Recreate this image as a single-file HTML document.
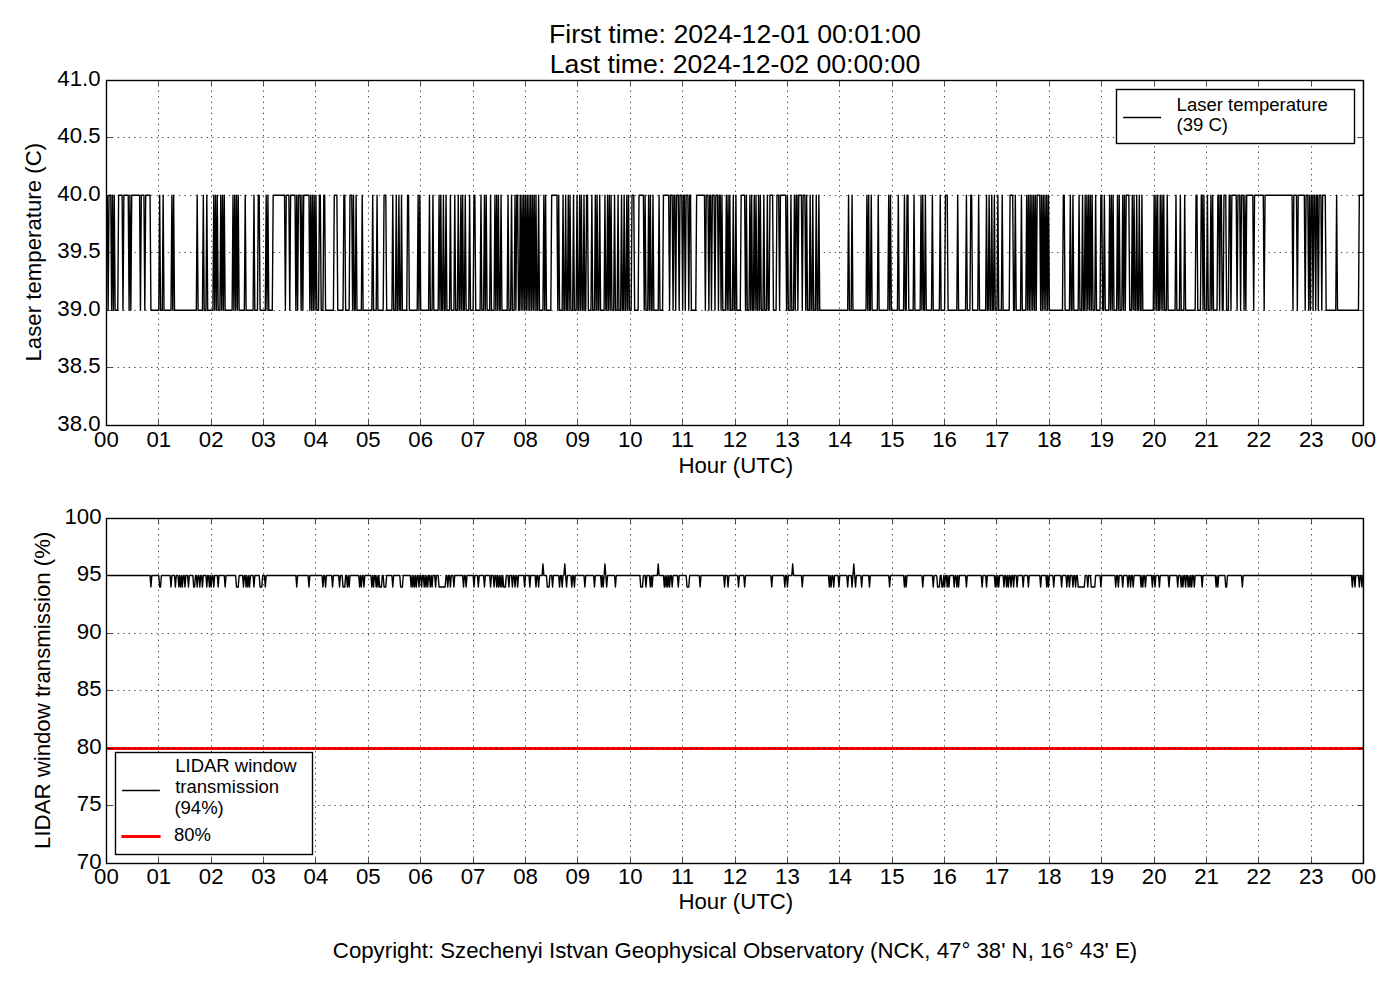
<!DOCTYPE html>
<html lang="en"><head><meta charset="utf-8"><title>LIDAR housekeeping</title>
<style>
html,body{margin:0;padding:0;background:#fff;}
body{width:1400px;height:1000px;position:relative;overflow:hidden;font-family:"Liberation Sans",sans-serif;}
</style></head><body>
<svg width="1400" height="1000" viewBox="0 0 1400 1000" style="display:block;position:absolute;left:0;top:0">
<rect width="1400" height="1000" fill="#fff"/>
<g fill="none" stroke="#000" stroke-width="1.39" stroke-linejoin="round" stroke-linecap="butt">
<path d="M107.27 195.2L108.15 310.2L109.02 195.2L110.77 195.2L111.64 310.2L112.51 195.2L113.39 310.2L114.26 195.2L115.13 310.2L117.75 310.2L118.62 195.2L122.12 195.2L122.99 310.2L123.86 195.2L128.23 195.2L129.1 310.2L129.97 195.2L130.85 310.2L131.72 195.2L139.58 195.2L140.45 310.2L141.32 195.2L143.94 195.2L144.82 310.2L145.69 195.2L150.06 195.2L150.93 310.2L158.79 310.2L159.66 195.2L160.53 310.2L162.28 310.2L163.15 195.2L164.03 310.2L171.01 310.2L171.88 195.2L172.76 310.2L173.63 195.2L174.5 310.2L196.33 310.2L197.2 195.2L198.08 310.2L202.44 310.2L203.32 195.2L204.19 310.2L205.94 310.2L206.81 195.2L207.68 310.2L212.92 310.2L213.79 195.2L214.67 310.2L215.54 195.2L216.41 310.2L217.29 195.2L218.16 310.2L219.91 310.2L220.78 195.2L221.65 310.2L222.53 195.2L223.4 310.2L224.27 195.2L225.14 310.2L232.13 310.2L233 195.2L233.88 310.2L234.75 195.2L235.62 310.2L236.5 195.2L237.37 310.2L238.24 195.2L239.11 310.2L244.35 310.2L245.23 195.2L246.1 310.2L253.09 310.2L253.96 195.2L254.83 310.2L257.45 310.2L258.32 195.2L259.2 195.2L260.07 310.2L265.31 310.2L266.18 195.2L267.05 310.2L267.93 195.2L268.8 310.2L272.29 310.2L273.17 195.2L284.52 195.2L285.39 310.2L286.26 195.2L288.88 195.2L289.76 310.2L290.63 195.2L295 195.2L295.87 310.2L296.74 195.2L297.61 310.2L298.49 195.2L300.23 195.2L301.11 310.2L301.98 195.2L302.85 310.2L303.73 195.2L308.97 195.2L309.84 310.2L310.71 195.2L311.58 310.2L312.46 195.2L313.33 310.2L314.2 195.2L315.08 310.2L315.95 195.2L316.82 310.2L318.57 310.2L319.44 195.2L320.32 195.2L321.19 310.2L322.93 310.2L323.81 195.2L324.68 195.2L325.55 310.2L333.41 310.2L334.29 195.2L336.9 195.2L337.78 310.2L343.02 310.2L343.89 195.2L344.76 195.2L345.64 310.2L349.13 310.2L350 195.2L351.75 195.2L352.62 310.2L353.49 195.2L354.37 310.2L355.24 310.2L356.11 195.2L356.99 310.2L361.35 310.2L362.23 195.2L363.1 310.2L371.83 310.2L372.7 195.2L373.58 310.2L376.2 310.2L377.07 195.2L377.94 310.2L383.18 310.2L384.05 195.2L385.8 195.2L386.67 310.2L391.91 310.2L392.78 195.2L393.66 310.2L395.4 310.2L396.28 195.2L397.15 310.2L398.02 310.2L398.9 195.2L399.77 310.2L400.64 310.2L401.52 195.2L402.39 310.2L406.75 310.2L407.63 195.2L408.5 195.2L409.37 310.2L417.23 310.2L418.11 195.2L418.98 310.2L419.85 195.2L420.73 310.2L428.58 310.2L429.46 195.2L430.33 310.2L432.08 310.2L432.95 195.2L433.82 310.2L438.19 310.2L439.06 195.2L439.93 310.2L440.81 195.2L441.68 310.2L442.55 310.2L443.43 195.2L444.3 310.2L445.17 310.2L446.05 195.2L446.92 310.2L449.54 310.2L450.41 195.2L451.28 310.2L453.9 310.2L454.78 195.2L455.65 310.2L457.4 310.2L458.27 195.2L459.14 310.2L460.02 310.2L460.89 195.2L461.76 310.2L462.63 195.2L463.51 310.2L464.38 310.2L465.25 195.2L466.13 310.2L468.75 310.2L469.62 195.2L470.49 310.2L473.11 310.2L473.99 195.2L474.86 195.2L475.73 310.2L480.1 310.2L480.97 195.2L481.84 310.2L483.59 310.2L484.46 195.2L485.34 310.2L486.21 195.2L487.08 310.2L489.7 310.2L490.57 195.2L491.45 310.2L494.07 310.2L494.94 195.2L495.81 310.2L496.69 195.2L497.56 310.2L498.43 195.2L499.31 310.2L500.18 310.2L501.05 195.2L501.93 310.2L507.16 310.2L508.04 195.2L508.91 310.2L510.66 310.2L511.53 195.2L512.4 310.2L514.15 310.2L515.02 195.2L515.9 310.2L516.77 195.2L517.64 195.2L518.51 310.2L519.39 310.2L520.26 195.2L521.13 310.2L522.01 195.2L522.88 310.2L523.75 195.2L524.63 310.2L525.5 195.2L526.37 310.2L527.25 195.2L528.12 310.2L528.99 195.2L529.87 310.2L530.74 195.2L531.61 310.2L532.49 195.2L533.36 310.2L534.23 195.2L535.1 310.2L535.98 195.2L536.85 310.2L537.72 310.2L538.6 195.2L539.47 310.2L542.96 310.2L543.84 195.2L544.71 310.2L545.58 195.2L546.45 310.2L550.82 310.2L551.69 195.2L556.93 195.2L557.81 310.2L558.68 195.2L559.55 310.2L562.17 310.2L563.04 195.2L563.92 310.2L564.79 310.2L565.66 195.2L566.54 310.2L567.41 310.2L568.28 195.2L569.16 310.2L570.03 195.2L570.9 310.2L572.65 310.2L573.52 195.2L574.39 310.2L576.14 310.2L577.01 195.2L577.89 310.2L578.76 310.2L579.63 195.2L580.51 310.2L581.38 195.2L582.25 310.2L583.13 310.2L584 195.2L584.87 310.2L585.75 310.2L586.62 195.2L587.49 195.2L588.37 310.2L590.98 310.2L591.86 195.2L592.73 310.2L594.48 310.2L595.35 195.2L596.22 310.2L597.1 195.2L597.97 310.2L598.84 310.2L599.72 195.2L600.59 310.2L604.08 310.2L604.95 195.2L605.83 310.2L606.7 310.2L607.57 195.2L608.45 310.2L609.32 195.2L610.19 310.2L611.07 195.2L611.94 310.2L613.69 310.2L614.56 195.2L615.43 310.2L617.18 310.2L618.05 195.2L618.92 310.2L620.67 310.2L621.54 195.2L622.42 310.2L623.29 310.2L624.16 195.2L625.04 310.2L625.91 310.2L626.78 195.2L627.66 310.2L628.53 195.2L629.4 310.2L631.15 310.2L632.02 195.2L633.77 195.2L634.64 310.2L638.13 310.2L639.01 195.2L643.37 195.2L644.24 310.2L645.12 195.2L645.99 310.2L647.74 310.2L648.61 195.2L649.48 310.2L650.36 195.2L651.23 310.2L652.1 310.2L652.98 195.2L653.85 310.2L658.21 310.2L659.09 195.2L659.96 310.2L662.58 310.2L663.45 195.2L668.69 195.2L669.57 310.2L670.44 195.2L672.18 195.2L673.06 310.2L673.93 195.2L674.8 195.2L675.68 310.2L676.55 195.2L678.3 195.2L679.17 310.2L680.04 195.2L681.79 195.2L682.66 310.2L683.54 195.2L684.41 195.2L685.28 310.2L686.15 195.2L687.9 195.2L688.77 310.2L689.65 195.2L690.52 195.2L691.39 310.2L695.76 310.2L696.63 195.2L704.49 195.2L705.36 310.2L706.24 195.2L707.98 195.2L708.86 310.2L709.73 195.2L710.6 195.2L711.48 310.2L712.35 195.2L714.09 195.2L714.97 310.2L715.84 195.2L717.59 195.2L718.46 310.2L719.33 195.2L720.21 195.2L721.08 310.2L721.95 195.2L722.83 310.2L725.45 310.2L726.32 195.2L727.19 310.2L728.06 195.2L728.94 310.2L729.81 195.2L730.68 310.2L732.43 310.2L733.3 195.2L734.18 310.2L735.05 310.2L735.92 195.2L736.8 310.2L740.29 310.2L741.16 195.2L744.65 195.2L745.53 310.2L746.4 195.2L747.27 310.2L749.02 310.2L749.89 195.2L750.77 310.2L751.64 195.2L752.51 310.2L753.39 310.2L754.26 195.2L755.13 310.2L756 195.2L756.88 310.2L757.75 310.2L758.62 195.2L759.5 310.2L760.37 195.2L761.24 310.2L762.99 310.2L763.86 195.2L764.74 310.2L766.48 310.2L767.36 195.2L768.23 310.2L769.1 310.2L769.97 195.2L772.59 195.2L773.47 310.2L776.09 310.2L776.96 195.2L778.71 195.2L779.58 310.2L780.45 195.2L785.69 195.2L786.56 310.2L787.44 195.2L788.31 310.2L790.06 310.2L790.93 195.2L791.8 310.2L793.55 310.2L794.42 195.2L795.3 310.2L796.17 195.2L797.04 195.2L797.91 310.2L798.79 195.2L801.41 195.2L802.28 310.2L803.15 195.2L804.9 195.2L805.77 310.2L806.65 195.2L807.52 310.2L809.27 310.2L810.14 195.2L811.01 310.2L811.88 310.2L812.76 195.2L813.63 310.2L815.38 310.2L816.25 195.2L817.12 310.2L818 310.2L818.87 195.2L819.74 310.2L847.68 310.2L848.56 195.2L849.43 310.2L851.18 310.2L852.05 195.2L852.92 310.2L866.02 310.2L866.89 195.2L867.76 310.2L868.64 195.2L869.51 310.2L870.38 310.2L871.26 195.2L872.13 310.2L877.37 310.2L878.24 195.2L879.12 310.2L887.85 310.2L888.72 195.2L889.59 310.2L890.47 195.2L891.34 310.2L897.45 310.2L898.32 195.2L899.2 310.2L903.56 310.2L904.44 195.2L905.31 310.2L906.18 310.2L907.06 195.2L907.93 195.2L908.8 310.2L913.17 310.2L914.04 195.2L914.91 310.2L920.15 310.2L921.03 195.2L921.9 310.2L922.77 195.2L923.64 310.2L924.52 310.2L925.39 195.2L926.26 310.2L931.5 310.2L932.38 195.2L933.25 310.2L939.36 310.2L940.23 195.2L941.11 310.2L944.6 310.2L945.47 195.2L947.22 195.2L948.09 310.2L956.82 310.2L957.7 195.2L958.57 310.2L965.55 310.2L966.43 195.2L967.3 310.2L969.92 310.2L970.79 195.2L971.67 195.2L972.54 310.2L977.78 310.2L978.65 195.2L979.52 310.2L985.64 310.2L986.51 195.2L987.38 310.2L988.26 310.2L989.13 195.2L990 310.2L990.88 310.2L991.75 195.2L992.62 310.2L993.49 310.2L994.37 195.2L995.24 310.2L996.99 310.2L997.86 195.2L998.73 310.2L1001.35 310.2L1002.23 195.2L1003.1 310.2L1009.21 310.2L1010.08 195.2L1012.7 195.2L1013.58 310.2L1014.45 310.2L1015.32 195.2L1016.2 310.2L1020.56 310.2L1021.43 195.2L1022.31 310.2L1025.8 310.2L1026.67 195.2L1027.55 310.2L1028.42 195.2L1029.29 310.2L1030.17 195.2L1031.04 310.2L1031.91 195.2L1032.79 310.2L1033.66 195.2L1034.53 310.2L1035.4 195.2L1036.28 310.2L1037.15 195.2L1039.77 195.2L1040.64 310.2L1041.52 195.2L1042.39 310.2L1043.26 195.2L1044.14 310.2L1045.01 195.2L1045.88 310.2L1046.76 195.2L1047.63 310.2L1048.5 195.2L1049.38 310.2L1062.47 310.2L1063.35 195.2L1064.22 195.2L1065.09 310.2L1069.46 310.2L1070.33 195.2L1071.2 310.2L1072.08 310.2L1072.95 195.2L1073.82 310.2L1078.19 310.2L1079.06 195.2L1079.93 310.2L1081.68 310.2L1082.55 195.2L1083.43 310.2L1084.3 310.2L1085.17 195.2L1086.05 310.2L1086.92 195.2L1087.79 310.2L1088.67 195.2L1089.54 310.2L1090.41 195.2L1091.28 310.2L1092.16 195.2L1093.03 310.2L1094.78 310.2L1095.65 195.2L1096.52 310.2L1100.02 310.2L1100.89 195.2L1101.76 195.2L1102.64 310.2L1103.51 310.2L1104.38 195.2L1105.25 310.2L1108.75 310.2L1109.62 195.2L1110.49 310.2L1111.37 195.2L1112.24 310.2L1113.11 195.2L1113.99 310.2L1116.61 310.2L1117.48 195.2L1118.35 310.2L1119.22 195.2L1120.1 310.2L1121.84 310.2L1122.72 195.2L1123.59 310.2L1124.46 195.2L1125.34 310.2L1126.21 195.2L1128.83 195.2L1129.7 310.2L1131.45 310.2L1132.32 195.2L1133.19 310.2L1134.07 195.2L1134.94 310.2L1135.81 310.2L1136.69 195.2L1137.56 310.2L1138.43 310.2L1139.31 195.2L1140.18 310.2L1141.05 310.2L1141.93 195.2L1142.8 310.2L1153.28 310.2L1154.15 195.2L1155.02 310.2L1155.9 195.2L1156.77 310.2L1157.64 195.2L1158.52 310.2L1159.39 310.2L1160.26 195.2L1161.13 310.2L1162.01 195.2L1162.88 310.2L1163.75 195.2L1164.63 310.2L1166.37 310.2L1167.25 195.2L1168.12 310.2L1175.11 310.2L1175.98 195.2L1176.85 310.2L1179.47 310.2L1180.34 195.2L1181.22 310.2L1183.84 310.2L1184.71 195.2L1185.58 310.2L1195.19 310.2L1196.06 195.2L1196.93 195.2L1197.81 310.2L1200.43 310.2L1201.3 195.2L1202.17 195.2L1203.05 310.2L1203.92 195.2L1204.79 310.2L1206.54 310.2L1207.41 195.2L1208.28 310.2L1210.03 310.2L1210.9 195.2L1211.78 310.2L1212.65 195.2L1213.52 310.2L1217.02 310.2L1217.89 195.2L1218.76 195.2L1219.63 310.2L1220.51 195.2L1221.38 195.2L1222.25 310.2L1223.13 310.2L1224 195.2L1225.75 195.2L1226.62 310.2L1228.37 310.2L1229.24 195.2L1230.11 195.2L1230.98 310.2L1231.86 195.2L1236.22 195.2L1237.1 310.2L1237.97 195.2L1239.72 195.2L1240.59 310.2L1241.46 195.2L1243.21 195.2L1244.08 310.2L1244.95 195.2L1245.83 310.2L1246.7 195.2L1252.81 195.2L1253.69 310.2L1254.56 195.2L1263.29 195.2L1264.16 310.2L1265.04 195.2L1292.1 195.2L1292.98 310.2L1293.85 195.2L1296.47 195.2L1297.34 310.2L1298.22 195.2L1304.33 195.2L1305.2 310.2L1306.07 195.2L1307.82 195.2L1308.69 310.2L1309.57 195.2L1310.44 310.2L1311.31 195.2L1312.19 195.2L1313.06 310.2L1313.93 195.2L1314.81 195.2L1315.68 310.2L1316.55 195.2L1317.42 195.2L1318.3 310.2L1319.17 195.2L1320.92 195.2L1321.79 310.2L1322.66 195.2L1325.28 195.2L1326.16 310.2L1335.76 310.2L1336.63 195.2L1337.51 310.2L1358.46 310.2L1359.33 195.2L1363.7 195.2"/>
<path d="M107.27 575.5L150.06 575.5L150.93 587L151.8 575.5L158.79 575.5L159.66 587L160.53 587L161.41 575.5L170.14 575.5L171.01 587L171.88 575.5L174.5 575.5L175.38 587L176.25 575.5L178 575.5L178.87 587L179.74 575.5L180.62 587L181.49 575.5L182.36 587L183.24 575.5L184.11 575.5L184.98 587L185.85 575.5L187.6 575.5L188.47 587L189.35 575.5L192.84 575.5L193.71 587L194.59 587L195.46 575.5L196.33 575.5L197.2 587L198.08 575.5L198.95 575.5L199.82 587L200.7 575.5L201.57 575.5L202.44 587L203.32 575.5L205.94 575.5L206.81 587L207.68 575.5L208.56 575.5L209.43 587L210.3 575.5L211.18 587L212.05 575.5L212.92 575.5L213.79 587L214.67 575.5L217.29 575.5L218.16 587L219.03 575.5L224.27 575.5L225.14 587L226.02 575.5L235.62 575.5L236.5 587L238.24 587L239.11 575.5L242.61 575.5L243.48 587L244.35 575.5L245.23 575.5L246.1 587L246.97 575.5L247.85 587L248.72 575.5L249.59 587L250.47 575.5L253.09 575.5L253.96 587L254.83 575.5L259.2 575.5L260.07 587L261.82 587L262.69 575.5L264.44 575.5L265.31 587L266.18 575.5L295.87 575.5L296.74 587L297.61 575.5L308.09 575.5L308.97 587L309.84 575.5L322.06 575.5L322.93 587L323.81 575.5L324.68 575.5L325.55 587L326.43 575.5L331.67 575.5L332.54 587L333.41 575.5L338.65 575.5L339.52 587L340.4 575.5L342.14 575.5L343.02 587L344.76 587L345.64 575.5L346.51 575.5L347.38 587L348.26 575.5L349.13 587L350 575.5L358.73 575.5L359.61 587L360.48 575.5L361.35 587L362.23 575.5L363.1 575.5L363.97 587L364.85 575.5L370.96 575.5L371.83 587L372.7 575.5L373.58 587L374.45 575.5L375.32 575.5L376.2 587L377.07 575.5L377.94 587L378.81 575.5L379.69 587L381.43 587L382.31 575.5L383.18 575.5L384.05 587L385.8 587L386.67 575.5L391.91 575.5L392.78 587L393.66 575.5L399.77 575.5L400.64 587L402.39 587L403.26 575.5L410.25 575.5L411.12 587L411.99 575.5L412.87 587L413.74 575.5L414.61 587L415.49 575.5L416.36 587L417.23 575.5L418.11 575.5L418.98 587L419.85 575.5L420.73 575.5L421.6 587L422.47 575.5L423.34 575.5L424.22 587L425.09 575.5L425.96 587L426.84 575.5L427.71 587L428.58 575.5L429.46 575.5L430.33 587L431.2 575.5L432.08 587L432.95 575.5L434.69 575.5L435.57 587L436.44 575.5L438.19 575.5L439.06 587L445.17 587L446.05 575.5L446.92 575.5L447.79 587L448.66 575.5L449.54 575.5L450.41 587L451.28 575.5L453.03 575.5L453.9 587L454.78 575.5L462.63 575.5L463.51 587L464.38 575.5L465.25 575.5L466.13 587L467 575.5L473.11 575.5L473.99 587L474.86 575.5L477.48 575.5L478.35 587L479.22 575.5L483.59 575.5L484.46 587L485.34 575.5L489.7 575.5L490.57 587L491.45 575.5L493.19 575.5L494.07 587L494.94 575.5L495.81 575.5L496.69 587L497.56 575.5L498.43 587L499.31 575.5L500.18 587L501.05 575.5L501.93 587L502.8 575.5L503.67 587L505.42 587L506.29 575.5L508.04 575.5L508.91 587L509.78 575.5L511.53 575.5L512.4 587L513.28 575.5L514.15 575.5L515.02 587L515.9 575.5L516.77 575.5L517.64 587L518.51 575.5L523.75 575.5L524.63 587L525.5 575.5L528.99 575.5L529.87 587L530.74 575.5L535.1 575.5L535.98 587L536.85 575.5L537.72 575.5L538.6 587L539.47 575.5L542.09 575.5L542.96 564L543.84 575.5L546.45 575.5L547.33 587L549.07 587L549.95 575.5L551.69 575.5L552.57 587L553.44 575.5L558.68 575.5L559.55 587L560.42 575.5L561.3 575.5L562.17 587L563.04 575.5L563.92 575.5L564.79 564L565.66 575.5L566.54 587L567.41 575.5L570.9 575.5L571.78 587L572.65 575.5L573.52 575.5L574.39 587L575.27 575.5L584 575.5L584.87 587L585.75 575.5L593.6 575.5L594.48 587L595.35 575.5L600.59 575.5L601.46 587L602.33 575.5L603.21 587L604.08 575.5L604.95 564L605.83 575.5L606.7 587L607.57 575.5L614.56 575.5L615.43 587L616.3 575.5L639.88 575.5L640.75 587L642.5 587L643.37 575.5L645.12 575.5L645.99 587L646.86 575.5L649.48 575.5L650.36 587L651.23 575.5L652.1 587L652.98 575.5L657.34 575.5L658.21 564L659.09 575.5L663.45 575.5L664.33 587L665.2 575.5L666.07 587L666.95 575.5L667.82 587L668.69 575.5L669.57 587L670.44 575.5L671.31 575.5L672.18 587L673.06 575.5L677.42 575.5L678.3 587L679.17 575.5L686.15 575.5L687.03 587L688.77 587L689.65 575.5L699.25 575.5L700.12 587L701 575.5L723.7 575.5L724.57 587L725.45 575.5L727.19 575.5L728.06 587L728.94 575.5L737.67 575.5L738.54 587L739.42 575.5L743.78 575.5L744.65 587L745.53 575.5L770.85 575.5L771.72 587L772.59 575.5L783.94 575.5L784.82 587L785.69 575.5L786.56 575.5L787.44 587L788.31 575.5L791.8 575.5L792.68 564L793.55 575.5L801.41 575.5L802.28 587L803.15 575.5L828.47 575.5L829.35 587L830.22 575.5L831.09 587L831.97 575.5L832.84 575.5L833.71 587L834.59 575.5L838.08 575.5L838.95 587L839.82 575.5L846.81 575.5L847.68 587L848.56 575.5L851.18 575.5L852.05 587L852.92 575.5L853.79 564L854.67 575.5L855.54 587L856.41 575.5L860.78 575.5L861.65 587L862.53 575.5L868.64 575.5L869.51 587L870.38 575.5L888.72 575.5L889.59 587L890.47 575.5L903.56 575.5L904.44 587L905.31 575.5L906.18 587L907.06 575.5L921.9 575.5L922.77 587L923.64 575.5L932.38 575.5L933.25 587L934.12 575.5L936.74 575.5L937.61 587L939.36 587L940.23 575.5L941.11 575.5L941.98 587L942.85 587L943.73 575.5L944.6 587L945.47 575.5L946.35 575.5L947.22 587L948.09 575.5L948.97 587L949.84 575.5L953.33 575.5L954.2 587L955.08 575.5L955.95 575.5L956.82 587L957.7 575.5L958.57 587L959.44 575.5L965.55 575.5L966.43 587L967.3 575.5L981.27 575.5L982.14 587L983.02 575.5L985.64 575.5L986.51 587L987.38 575.5L994.37 575.5L995.24 587L996.11 575.5L996.99 587L997.86 575.5L998.73 587L999.61 575.5L1003.1 575.5L1003.97 587L1004.85 575.5L1005.72 575.5L1006.59 587L1007.46 575.5L1008.34 587L1009.21 575.5L1010.08 575.5L1010.96 587L1011.83 575.5L1012.7 575.5L1013.58 587L1014.45 575.5L1016.2 575.5L1017.07 587L1017.94 575.5L1022.31 575.5L1023.18 587L1024.05 575.5L1027.55 575.5L1028.42 587L1029.29 575.5L1039.77 575.5L1040.64 587L1041.52 575.5L1045.88 575.5L1046.76 587L1047.63 575.5L1048.5 587L1049.38 575.5L1052.87 575.5L1053.74 587L1054.61 575.5L1060.73 575.5L1061.6 587L1062.47 575.5L1065.96 575.5L1066.84 587L1067.71 575.5L1068.58 575.5L1069.46 587L1070.33 575.5L1072.08 575.5L1072.95 587L1073.82 575.5L1074.7 575.5L1075.57 587L1076.44 575.5L1077.32 575.5L1078.19 587L1084.3 587L1085.17 575.5L1086.92 575.5L1087.79 587L1088.67 575.5L1090.41 575.5L1091.28 587L1094.78 587L1095.65 575.5L1100.02 575.5L1100.89 587L1101.76 575.5L1114.86 575.5L1115.73 587L1116.61 575.5L1117.48 575.5L1118.35 587L1119.22 575.5L1121.84 575.5L1122.72 587L1123.59 575.5L1127.08 575.5L1127.96 587L1128.83 575.5L1129.7 575.5L1130.58 587L1131.45 575.5L1132.32 575.5L1133.19 587L1134.07 575.5L1140.18 575.5L1141.05 587L1141.93 575.5L1142.8 587L1143.67 575.5L1144.55 575.5L1145.42 587L1146.29 575.5L1151.53 575.5L1152.4 587L1153.28 575.5L1154.15 575.5L1155.02 587L1155.9 575.5L1158.52 575.5L1159.39 587L1160.26 575.5L1168.12 575.5L1168.99 587L1169.87 575.5L1176.85 575.5L1177.72 587L1178.6 575.5L1180.34 575.5L1181.22 587L1182.09 575.5L1182.96 587L1183.84 575.5L1184.71 575.5L1185.58 587L1186.46 575.5L1187.33 575.5L1188.2 587L1189.08 575.5L1189.95 587L1190.82 575.5L1191.69 587L1192.57 575.5L1193.44 575.5L1194.31 587L1195.19 575.5L1201.3 575.5L1202.17 587L1203.05 575.5L1215.27 575.5L1216.14 587L1217.02 575.5L1217.89 587L1218.76 575.5L1224.87 575.5L1225.75 587L1226.62 587L1227.49 575.5L1241.46 575.5L1242.34 587L1243.21 575.5L1351.48 575.5L1352.35 587L1353.22 575.5L1354.1 575.5L1354.97 587L1355.84 575.5L1358.46 575.5L1359.33 587L1360.21 575.5L1361.08 575.5L1361.95 587L1362.83 575.5L1363.7 575.5"/>
</g>
<path d="M106.5 748.5H1363.5" stroke="#f00" stroke-width="2.78" fill="none"/>
<rect x="1362.8" y="80.5" width="0.7" height="345" fill="#008000"/>
<rect x="1362.8" y="518.5" width="0.7" height="345" fill="#008000"/>
<g fill="none" stroke="#000" stroke-width="0.69" stroke-dasharray="1.39 4.17">
<path d="M158.5 425.5V80.5M211.5 425.5V80.5M263.5 425.5V80.5M315.5 425.5V80.5M368.5 425.5V80.5M420.5 425.5V80.5M473.5 425.5V80.5M525.5 425.5V80.5M577.5 425.5V80.5M630.5 425.5V80.5M682.5 425.5V80.5M735.5 425.5V80.5M787.5 425.5V80.5M839.5 425.5V80.5M892.5 425.5V80.5M944.5 425.5V80.5M996.5 425.5V80.5M1049.5 425.5V80.5M1101.5 425.5V80.5M1154.5 425.5V80.5M1206.5 425.5V80.5M1258.5 425.5V80.5M1311.5 425.5V80.5M106.5 137.5H1363.5M106.5 195.5H1363.5M106.5 252.5H1363.5M106.5 310.5H1363.5M106.5 367.5H1363.5"/>
<path d="M158.5 863.5V518.5M211.5 863.5V518.5M263.5 863.5V518.5M315.5 863.5V518.5M368.5 863.5V518.5M420.5 863.5V518.5M473.5 863.5V518.5M525.5 863.5V518.5M577.5 863.5V518.5M630.5 863.5V518.5M682.5 863.5V518.5M735.5 863.5V518.5M787.5 863.5V518.5M839.5 863.5V518.5M892.5 863.5V518.5M944.5 863.5V518.5M996.5 863.5V518.5M1049.5 863.5V518.5M1101.5 863.5V518.5M1154.5 863.5V518.5M1206.5 863.5V518.5M1258.5 863.5V518.5M1311.5 863.5V518.5M106.5 575.5H1363.5M106.5 633.5H1363.5M106.5 690.5H1363.5M106.5 748.5H1363.5M106.5 805.5H1363.5"/>
</g>
<g fill="none" stroke="#000" stroke-width="0.69">
<path d="M106.5 425.5v-5.56M106.5 80.5v5.56M158.5 425.5v-5.56M158.5 80.5v5.56M211.5 425.5v-5.56M211.5 80.5v5.56M263.5 425.5v-5.56M263.5 80.5v5.56M315.5 425.5v-5.56M315.5 80.5v5.56M368.5 425.5v-5.56M368.5 80.5v5.56M420.5 425.5v-5.56M420.5 80.5v5.56M473.5 425.5v-5.56M473.5 80.5v5.56M525.5 425.5v-5.56M525.5 80.5v5.56M577.5 425.5v-5.56M577.5 80.5v5.56M630.5 425.5v-5.56M630.5 80.5v5.56M682.5 425.5v-5.56M682.5 80.5v5.56M735.5 425.5v-5.56M735.5 80.5v5.56M787.5 425.5v-5.56M787.5 80.5v5.56M839.5 425.5v-5.56M839.5 80.5v5.56M892.5 425.5v-5.56M892.5 80.5v5.56M944.5 425.5v-5.56M944.5 80.5v5.56M996.5 425.5v-5.56M996.5 80.5v5.56M1049.5 425.5v-5.56M1049.5 80.5v5.56M1101.5 425.5v-5.56M1101.5 80.5v5.56M1154.5 425.5v-5.56M1154.5 80.5v5.56M1206.5 425.5v-5.56M1206.5 80.5v5.56M1258.5 425.5v-5.56M1258.5 80.5v5.56M1311.5 425.5v-5.56M1311.5 80.5v5.56M1363.5 425.5v-5.56M1363.5 80.5v5.56M106.5 80.5h5.56M1363.5 80.5h-5.56M106.5 137.5h5.56M1363.5 137.5h-5.56M106.5 195.5h5.56M1363.5 195.5h-5.56M106.5 252.5h5.56M1363.5 252.5h-5.56M106.5 310.5h5.56M1363.5 310.5h-5.56M106.5 367.5h5.56M1363.5 367.5h-5.56M106.5 425.5h5.56M1363.5 425.5h-5.56"/>
<path d="M106.5 863.5v-5.56M106.5 518.5v5.56M158.5 863.5v-5.56M158.5 518.5v5.56M211.5 863.5v-5.56M211.5 518.5v5.56M263.5 863.5v-5.56M263.5 518.5v5.56M315.5 863.5v-5.56M315.5 518.5v5.56M368.5 863.5v-5.56M368.5 518.5v5.56M420.5 863.5v-5.56M420.5 518.5v5.56M473.5 863.5v-5.56M473.5 518.5v5.56M525.5 863.5v-5.56M525.5 518.5v5.56M577.5 863.5v-5.56M577.5 518.5v5.56M630.5 863.5v-5.56M630.5 518.5v5.56M682.5 863.5v-5.56M682.5 518.5v5.56M735.5 863.5v-5.56M735.5 518.5v5.56M787.5 863.5v-5.56M787.5 518.5v5.56M839.5 863.5v-5.56M839.5 518.5v5.56M892.5 863.5v-5.56M892.5 518.5v5.56M944.5 863.5v-5.56M944.5 518.5v5.56M996.5 863.5v-5.56M996.5 518.5v5.56M1049.5 863.5v-5.56M1049.5 518.5v5.56M1101.5 863.5v-5.56M1101.5 518.5v5.56M1154.5 863.5v-5.56M1154.5 518.5v5.56M1206.5 863.5v-5.56M1206.5 518.5v5.56M1258.5 863.5v-5.56M1258.5 518.5v5.56M1311.5 863.5v-5.56M1311.5 518.5v5.56M1363.5 863.5v-5.56M1363.5 518.5v5.56M106.5 518.5h5.56M1363.5 518.5h-5.56M106.5 575.5h5.56M1363.5 575.5h-5.56M106.5 633.5h5.56M1363.5 633.5h-5.56M106.5 690.5h5.56M1363.5 690.5h-5.56M106.5 748.5h5.56M1363.5 748.5h-5.56M106.5 805.5h5.56M1363.5 805.5h-5.56M106.5 863.5h5.56M1363.5 863.5h-5.56"/>
</g>
<g fill="none" stroke="#000" stroke-width="1.39" stroke-linejoin="miter">
<rect x="106.5" y="80.5" width="1257" height="345"/>
<rect x="106.5" y="518.5" width="1257" height="345"/>
</g>
<rect x="1116.5" y="89.5" width="238" height="54" fill="#fff" stroke="#000" stroke-width="1.39"/>
<path d="M1123.8 117.5H1160.4" stroke="#000" stroke-width="1.39" stroke-linecap="square" fill="none"/>
<rect x="115.5" y="752.5" width="197" height="102" fill="#fff" stroke="#000" stroke-width="1.39"/>
<path d="M122.8 790.5H159.2" stroke="#000" stroke-width="1.39" stroke-linecap="square" fill="none"/>
<path d="M122.8 836.5H159.2" stroke="#f00" stroke-width="2.78" stroke-linecap="square" fill="none"/>
<g font-family="'Liberation Sans', 'DejaVu Sans', sans-serif" fill="#000" stroke="none">
<text x="735" y="43" font-size="26.67" text-anchor="middle">First time: 2024-12-01 00:01:00</text>
<text x="735" y="73" font-size="26.67" text-anchor="middle">Last time: 2024-12-02 00:00:00</text>
<text x="106.4" y="447" font-size="22.22" text-anchor="middle">00</text>
<text x="158.79" y="447" font-size="22.22" text-anchor="middle">01</text>
<text x="211.18" y="447" font-size="22.22" text-anchor="middle">02</text>
<text x="263.56" y="447" font-size="22.22" text-anchor="middle">03</text>
<text x="315.95" y="447" font-size="22.22" text-anchor="middle">04</text>
<text x="368.34" y="447" font-size="22.22" text-anchor="middle">05</text>
<text x="420.73" y="447" font-size="22.22" text-anchor="middle">06</text>
<text x="473.11" y="447" font-size="22.22" text-anchor="middle">07</text>
<text x="525.5" y="447" font-size="22.22" text-anchor="middle">08</text>
<text x="577.89" y="447" font-size="22.22" text-anchor="middle">09</text>
<text x="630.27" y="447" font-size="22.22" text-anchor="middle">10</text>
<text x="682.66" y="447" font-size="22.22" text-anchor="middle">11</text>
<text x="735.05" y="447" font-size="22.22" text-anchor="middle">12</text>
<text x="787.44" y="447" font-size="22.22" text-anchor="middle">13</text>
<text x="839.82" y="447" font-size="22.22" text-anchor="middle">14</text>
<text x="892.21" y="447" font-size="22.22" text-anchor="middle">15</text>
<text x="944.6" y="447" font-size="22.22" text-anchor="middle">16</text>
<text x="996.99" y="447" font-size="22.22" text-anchor="middle">17</text>
<text x="1049.38" y="447" font-size="22.22" text-anchor="middle">18</text>
<text x="1101.76" y="447" font-size="22.22" text-anchor="middle">19</text>
<text x="1154.15" y="447" font-size="22.22" text-anchor="middle">20</text>
<text x="1206.54" y="447" font-size="22.22" text-anchor="middle">21</text>
<text x="1258.92" y="447" font-size="22.22" text-anchor="middle">22</text>
<text x="1311.31" y="447" font-size="22.22" text-anchor="middle">23</text>
<text x="1363.7" y="447" font-size="22.22" text-anchor="middle">00</text>
<text x="106.4" y="884.3" font-size="22.22" text-anchor="middle">00</text>
<text x="158.79" y="884.3" font-size="22.22" text-anchor="middle">01</text>
<text x="211.18" y="884.3" font-size="22.22" text-anchor="middle">02</text>
<text x="263.56" y="884.3" font-size="22.22" text-anchor="middle">03</text>
<text x="315.95" y="884.3" font-size="22.22" text-anchor="middle">04</text>
<text x="368.34" y="884.3" font-size="22.22" text-anchor="middle">05</text>
<text x="420.73" y="884.3" font-size="22.22" text-anchor="middle">06</text>
<text x="473.11" y="884.3" font-size="22.22" text-anchor="middle">07</text>
<text x="525.5" y="884.3" font-size="22.22" text-anchor="middle">08</text>
<text x="577.89" y="884.3" font-size="22.22" text-anchor="middle">09</text>
<text x="630.27" y="884.3" font-size="22.22" text-anchor="middle">10</text>
<text x="682.66" y="884.3" font-size="22.22" text-anchor="middle">11</text>
<text x="735.05" y="884.3" font-size="22.22" text-anchor="middle">12</text>
<text x="787.44" y="884.3" font-size="22.22" text-anchor="middle">13</text>
<text x="839.82" y="884.3" font-size="22.22" text-anchor="middle">14</text>
<text x="892.21" y="884.3" font-size="22.22" text-anchor="middle">15</text>
<text x="944.6" y="884.3" font-size="22.22" text-anchor="middle">16</text>
<text x="996.99" y="884.3" font-size="22.22" text-anchor="middle">17</text>
<text x="1049.38" y="884.3" font-size="22.22" text-anchor="middle">18</text>
<text x="1101.76" y="884.3" font-size="22.22" text-anchor="middle">19</text>
<text x="1154.15" y="884.3" font-size="22.22" text-anchor="middle">20</text>
<text x="1206.54" y="884.3" font-size="22.22" text-anchor="middle">21</text>
<text x="1258.92" y="884.3" font-size="22.22" text-anchor="middle">22</text>
<text x="1311.31" y="884.3" font-size="22.22" text-anchor="middle">23</text>
<text x="1363.7" y="884.3" font-size="22.22" text-anchor="middle">00</text>
<text x="100.6" y="85.9" font-size="22.22" text-anchor="end">41.0</text>
<text x="100.6" y="143.4" font-size="22.22" text-anchor="end">40.5</text>
<text x="100.6" y="200.9" font-size="22.22" text-anchor="end">40.0</text>
<text x="100.6" y="258.4" font-size="22.22" text-anchor="end">39.5</text>
<text x="100.6" y="315.9" font-size="22.22" text-anchor="end">39.0</text>
<text x="100.6" y="373.4" font-size="22.22" text-anchor="end">38.5</text>
<text x="100.6" y="430.9" font-size="22.22" text-anchor="end">38.0</text>
<text x="101.5" y="523.9" font-size="22.22" text-anchor="end">100</text>
<text x="101.5" y="581.4" font-size="22.22" text-anchor="end">95</text>
<text x="101.5" y="638.9" font-size="22.22" text-anchor="end">90</text>
<text x="101.5" y="696.4" font-size="22.22" text-anchor="end">85</text>
<text x="101.5" y="753.9" font-size="22.22" text-anchor="end">80</text>
<text x="101.5" y="811.4" font-size="22.22" text-anchor="end">75</text>
<text x="101.5" y="868.9" font-size="22.22" text-anchor="end">70</text>
<text x="735.85" y="472.9" font-size="22.22" text-anchor="middle">Hour (UTC)</text>
<text x="735.85" y="909.4" font-size="22.22" text-anchor="middle">Hour (UTC)</text>
<text x="41.3" y="252.2" font-size="22.22" text-anchor="middle" transform="rotate(-90 41.3 252.2)">Laser temperature (C)</text>
<text x="49.9" y="690.3" font-size="22.22" text-anchor="middle" transform="rotate(-90 49.9 690.3)">LIDAR window transmission (%)</text>
<text x="1176.6" y="110.9" font-size="18.52" text-anchor="start">Laser temperature</text>
<text x="1176.6" y="131" font-size="18.52" text-anchor="start">(39 C)</text>
<text x="175.2" y="772.4" font-size="18.52" text-anchor="start">LIDAR window</text>
<text x="175.2" y="793.3" font-size="18.52" text-anchor="start">transmission</text>
<text x="174.4" y="814" font-size="18.52" text-anchor="start">(94%)</text>
<text x="173.9" y="841.3" font-size="18.52" text-anchor="start">80%</text>
<text x="735" y="958" font-size="22.22" text-anchor="middle">Copyright: Szechenyi Istvan Geophysical Observatory (NCK, 47° 38' N, 16° 43' E)</text>
</g>
</svg>
</body></html>
